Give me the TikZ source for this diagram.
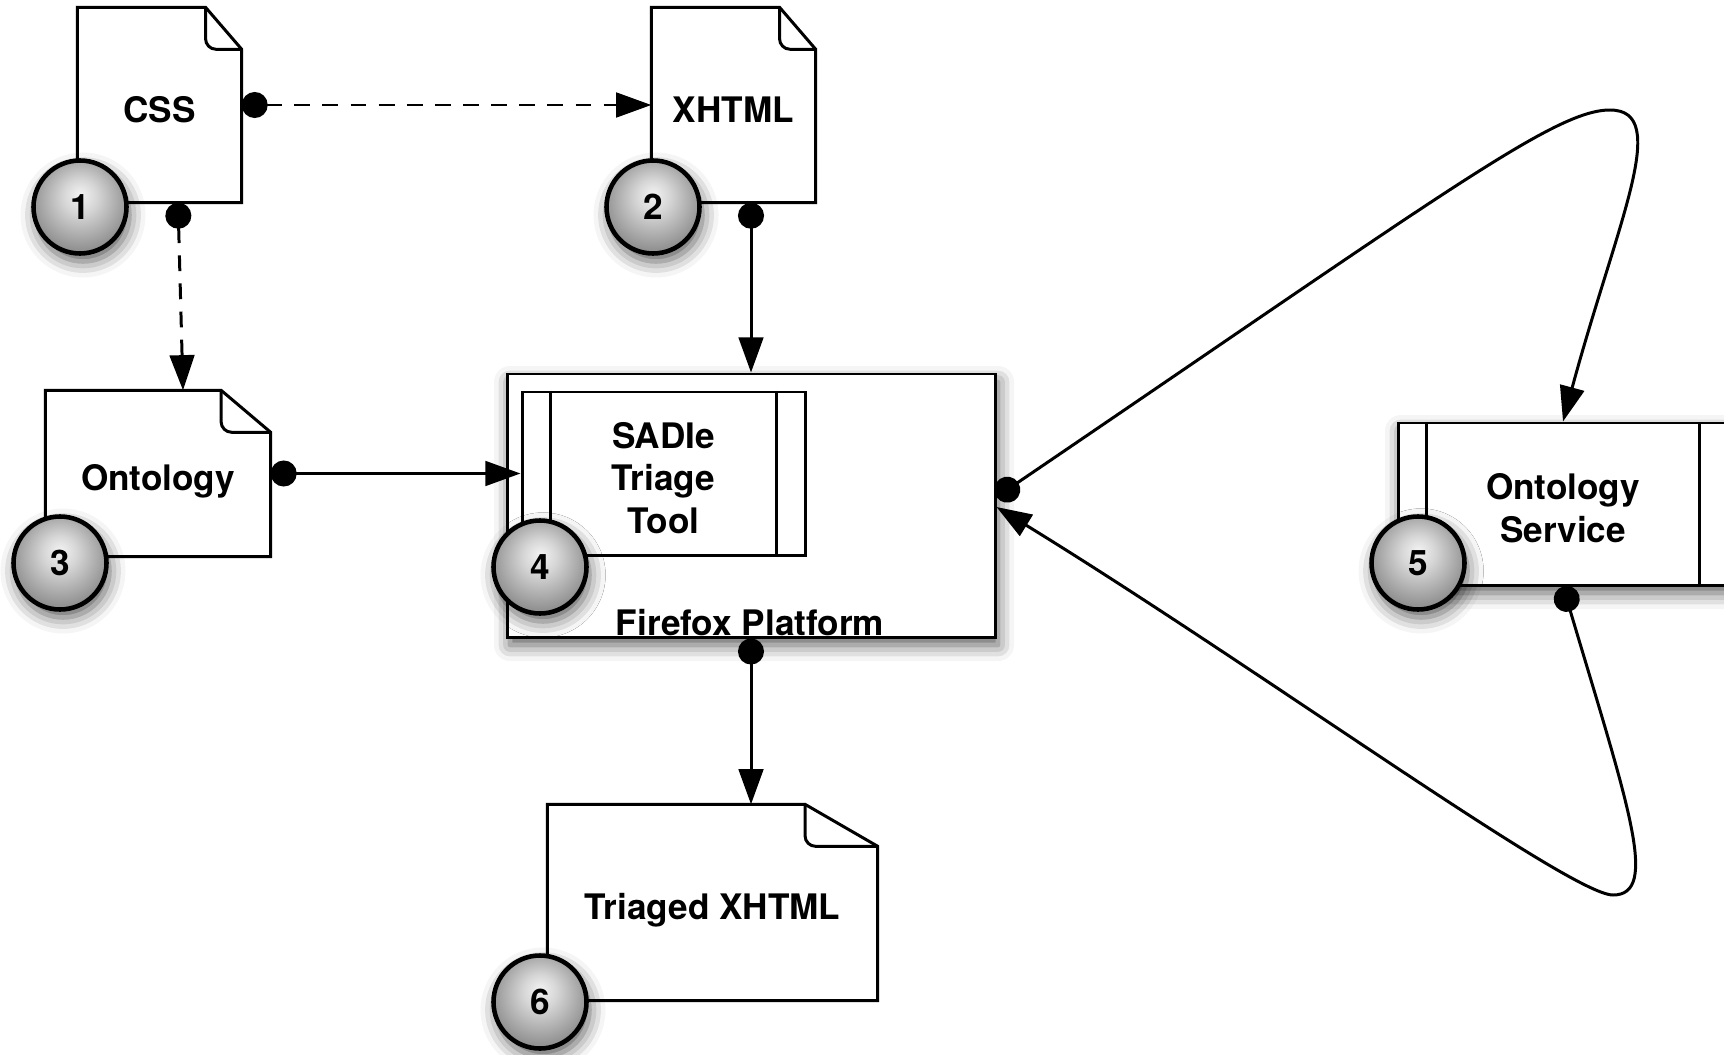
\documentclass[tikz,border=0pt]{standalone}
\usepackage{fontspec}
\setmainfont{TeX Gyre Heros}
\usetikzlibrary{arrows.meta, calc, shadows.blur}
\pgfdeclareradialshading{badgeshade}{\pgfpoint{0bp}{7bp}}{color(0bp)=(black!5); color(9bp)=(black!16); color(32bp)=(black!52); color(50bp)=(black!52)}
\tikzstyle{doc}=[inner sep=0pt, text height=9.9pt, text depth=0pt]
\tikzstyle{frame}=[draw, line width=0.85pt, fill=white, align=center]
\tikzstyle{softshadow}=[blur shadow={shadow xshift=0.03cm, shadow yshift=-0.08cm, shadow blur radius=0.16cm, shadow opacity=65}]
\tikzstyle{badge}=[circle, draw, line width=1.3pt, shading=badgeshade, minimum size=0.93cm, inner sep=0pt, softshadow]
\tikzstyle{link}=[line width=0.85pt, {Circle[length=7.4pt]}-{Triangle[length=10pt, width=7pt]}]
\tikzstyle{dashlink}=[link, dash pattern=on 4.5pt off 3.5pt]

\begin{document}
\begin{tikzpicture}[y=-1cm, font=\fontsize{10}{12.2}\selectfont\bfseries]
    \useasboundingbox (0,0) rectangle (17.24,10.54);
    % documents
    \node[doc, minimum width=1.63cm, minimum height=1.94cm] (css) at (1.595,1.05) {CSS};
    \node[doc, minimum width=1.63cm, minimum height=1.94cm] (xhtml) at (7.335,1.05) {XHTML};
    \node[doc, minimum width=2.24cm, minimum height=1.65cm] (onto) at (1.58,4.735) {Ontology};
    \node[doc, minimum width=3.29cm, minimum height=1.95cm] (triaged) at (7.125,9.025) {Triaged XHTML};
    \foreach \d in {css, xhtml, onto, triaged} {
        \coordinate (fold) at ($(\d.north east)!0.22!(\d.north west)$);
        \draw[line width=0.85pt] (\d.south west) -- (\d.north west) -- (fold) -- ([yshift=-0.42cm]\d.north east) -- (\d.south east) -- cycle;
        \draw[line width=0.85pt, rounded corners=3pt] (fold) |- ([yshift=-0.42cm]\d.north east);
    }
    % platform and tools
    \node[frame, softshadow, minimum width=4.88cm, minimum height=2.63cm] (ff) at (7.51,5.055) {};
    \node[anchor=base] (fflabel) at (7.50,6.35) {Firefox Platform};
    \node[frame, minimum width=2.83cm, minimum height=1.63cm] (sadie) at (6.635,4.735) {\rule{0pt}{10pt}SADIe\\Triage\\Tool};
    \node[frame, softshadow, minimum width=3.30cm, minimum height=1.62cm] (service) at (15.63,5.04) {\rule{0pt}{10pt}Ontology\\Service};
    \foreach \b in {sadie, service} {
        \draw[line width=0.85pt] ([xshift=0.3cm]\b.north west) -- ([xshift=0.3cm]\b.south west);
        \draw[line width=0.85pt] ([xshift=-0.3cm]\b.north east) -- ([xshift=-0.3cm]\b.south east);
    }
    % connectors
    \draw[dashlink] (css.east) -- (xhtml.west);
    \draw[dashlink] ([xshift=0.185cm]css.south) -- ([xshift=0.25cm]onto.north);
    \draw[link] (xhtml.south -| ff.north) -- (ff.north);
    \draw[link] (onto.east) -- (sadie.west);
    \draw[link] (ff.south) -- (ff.south |- triaged.north);
    % loop out to the service and back
    \coordinate (uptop) at (16.10,1.10);
    \coordinate (lowbot) at (16.13,8.95);
    \draw[link] ([yshift=0.085cm]ff.east) .. controls (14.47,1.91) and (15.55,1.10) .. (uptop)
        .. controls (16.72,1.10) and (16.17,2.22) .. (service.north);
    \draw[link] (service.south) .. controls (16.28,8.05) and (16.60,8.95) .. (lowbot)
        .. controls (15.70,8.95) and (12.57,6.67) .. ([yshift=-0.015cm]ff.east);
    % numbers
    \foreach \n/\x/\y in {1/0.80/2.07, 2/6.53/2.07, 3/0.60/5.63, 4/5.40/5.67, 5/14.18/5.63, 6/5.40/10.02}
        \node[badge] (badge\n) at (\x,\y) {\n};
\end{tikzpicture}
\end{document}
